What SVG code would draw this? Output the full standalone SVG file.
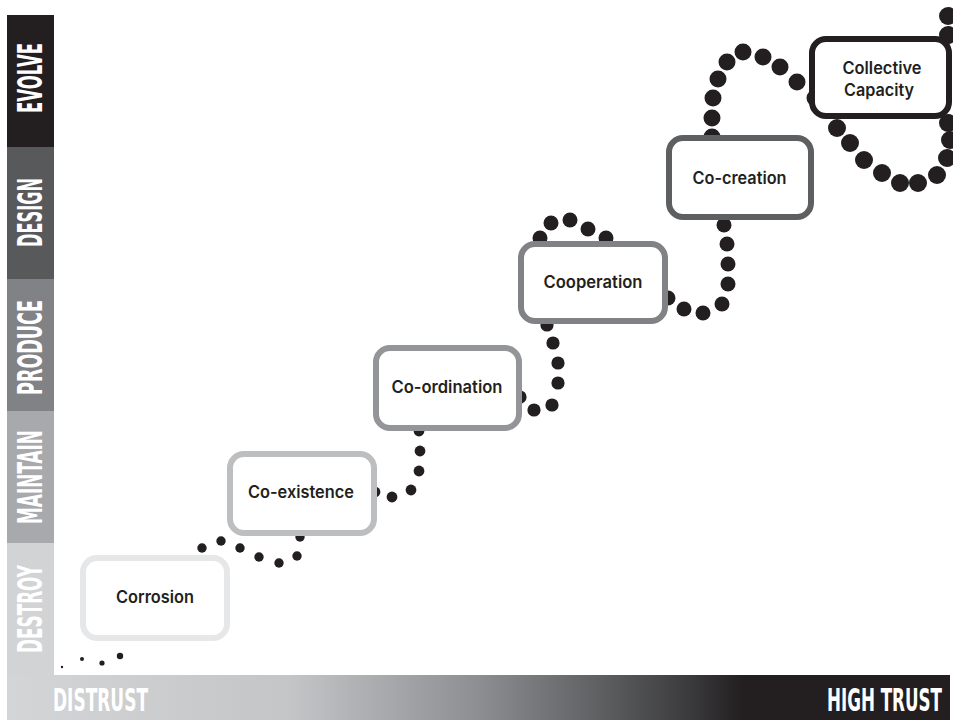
<svg xmlns="http://www.w3.org/2000/svg" width="953" height="720" viewBox="0 0 953 720">
  <defs>
    <linearGradient id="trust" x1="7" y1="0" x2="950" y2="0" gradientUnits="userSpaceOnUse">
      <stop offset="0" stop-color="#d4d5d6"/>
      <stop offset="0.3" stop-color="#c4c5c7"/>
      <stop offset="0.5" stop-color="#8d8e91"/>
      <stop offset="0.63" stop-color="#5e5f61"/>
      <stop offset="0.72" stop-color="#3c3c3e"/>
      <stop offset="0.78" stop-color="#231f20"/>
      <stop offset="1" stop-color="#231f20"/>
    </linearGradient>
    <style>
      .lvl { font-family: 'DejaVu Sans Condensed', 'DejaVu Sans', 'Liberation Sans', sans-serif; font-weight: bold; font-size: 33px; fill: #ffffff; text-anchor: middle; }
      .axis { font-family: 'DejaVu Sans Condensed', 'DejaVu Sans', 'Liberation Sans', sans-serif; font-weight: bold; font-size: 32px; fill: #ffffff; }
      .box { fill: #ffffff; stroke-width: 6; }
      .lbl { font-family: Inter, 'Noto Sans', 'Liberation Sans', sans-serif; font-weight: 600; font-size: 17px; fill: #231f20; text-anchor: middle; }
      .dot { fill: #231f20; }
    </style>
  </defs>

  <rect width="953" height="720" fill="#ffffff"/>

  <!-- vertical scale -->
  <g id="scale">
    <rect x="7" y="15" width="47" height="132" fill="#231f20"/>
    <rect x="7" y="147" width="47" height="132" fill="#58595b"/>
    <rect x="7" y="279" width="47" height="132" fill="#808285"/>
    <rect x="7" y="411" width="47" height="132" fill="#a7a9ac"/>
    <rect x="7" y="543" width="47" height="132" fill="#d1d3d4"/>
    <text class="lvl" transform="translate(42,78) rotate(-90) scale(0.56,1)" textLength="125" lengthAdjust="spacingAndGlyphs">EVOLVE</text>
    <text class="lvl" transform="translate(42,212.5) rotate(-90) scale(0.56,1)" textLength="123" lengthAdjust="spacingAndGlyphs">DESIGN</text>
    <text class="lvl" transform="translate(42,347.5) rotate(-90) scale(0.56,1)" textLength="169.5" lengthAdjust="spacingAndGlyphs">PRODUCE</text>
    <text class="lvl" transform="translate(42,477) rotate(-90) scale(0.56,1)" textLength="168" lengthAdjust="spacingAndGlyphs">MAINTAIN</text>
    <text class="lvl" transform="translate(42,609) rotate(-90) scale(0.56,1)" textLength="157" lengthAdjust="spacingAndGlyphs">DESTROY</text>
  </g>

  <!-- horizontal trust axis -->
  <g id="trust-axis">
    <rect x="7" y="675" width="943" height="45" fill="url(#trust)"/>
    <text class="axis" transform="translate(53,711) scale(0.58,1)" textLength="163.8" lengthAdjust="spacingAndGlyphs">DISTRUST</text>
    <text class="axis" transform="translate(827,711) scale(0.58,1)" textLength="198.3" lengthAdjust="spacingAndGlyphs">HIGH TRUST</text>
  </g>

  <!-- dotted path connectors -->
  <g id="connectors">
    <circle class="dot" cx="62" cy="667" r="1.2"/>
    <circle class="dot" cx="82" cy="659" r="2"/>
    <circle class="dot" cx="102" cy="663" r="2.6"/>
    <circle class="dot" cx="120" cy="656" r="3.2"/>

    <circle class="dot" cx="202" cy="548" r="4.7"/>
    <circle class="dot" cx="221" cy="541" r="4.7"/>
    <circle class="dot" cx="240" cy="548" r="4.7"/>
    <circle class="dot" cx="259" cy="557" r="4.7"/>
    <circle class="dot" cx="279" cy="563" r="4.7"/>
    <circle class="dot" cx="297" cy="556" r="4.7"/>
    <circle class="dot" cx="300" cy="537" r="4.7"/>

    <circle class="dot" cx="375" cy="492" r="5.4"/>
    <circle class="dot" cx="392" cy="497" r="5.4"/>
    <circle class="dot" cx="411" cy="490" r="5.4"/>
    <circle class="dot" cx="419" cy="471" r="5.4"/>
    <circle class="dot" cx="420" cy="451" r="5.4"/>
    <circle class="dot" cx="419" cy="431" r="5.4"/>

    <circle class="dot" cx="520" cy="397" r="6.6"/>
    <circle class="dot" cx="534" cy="410" r="6.6"/>
    <circle class="dot" cx="552" cy="405" r="6.6"/>
    <circle class="dot" cx="558" cy="383" r="6.6"/>
    <circle class="dot" cx="558" cy="363" r="6.6"/>
    <circle class="dot" cx="553" cy="343" r="6.6"/>
    <circle class="dot" cx="547" cy="325" r="6.6"/>

    <circle class="dot" cx="540" cy="238" r="7.5"/>
    <circle class="dot" cx="551" cy="223" r="7.5"/>
    <circle class="dot" cx="570" cy="220" r="7.5"/>
    <circle class="dot" cx="588" cy="229" r="7.5"/>
    <circle class="dot" cx="606" cy="238" r="7.5"/>

    <circle class="dot" cx="668" cy="298" r="7.5"/>
    <circle class="dot" cx="684" cy="309" r="7.5"/>
    <circle class="dot" cx="703" cy="313" r="7.5"/>
    <circle class="dot" cx="722" cy="304" r="7.5"/>
    <circle class="dot" cx="728" cy="284" r="7.5"/>
    <circle class="dot" cx="728" cy="264" r="7.5"/>
    <circle class="dot" cx="727" cy="244" r="7.5"/>
    <circle class="dot" cx="724" cy="225" r="7.5"/>

    <circle class="dot" cx="712" cy="137" r="8.5"/>
    <circle class="dot" cx="712" cy="118" r="8.5"/>
    <circle class="dot" cx="713" cy="98" r="8.5"/>
    <circle class="dot" cx="718" cy="79" r="8.5"/>
    <circle class="dot" cx="727" cy="62" r="8.5"/>
    <circle class="dot" cx="743" cy="52" r="8.5"/>
    <circle class="dot" cx="763" cy="57" r="8.5"/>
    <circle class="dot" cx="780" cy="67" r="8.5"/>
    <circle class="dot" cx="797" cy="82" r="8.5"/>
    <circle class="dot" cx="815" cy="98" r="8.5"/>

    <circle class="dot" cx="837" cy="128" r="9"/>
    <circle class="dot" cx="850" cy="143" r="9"/>
    <circle class="dot" cx="864" cy="160" r="9"/>
    <circle class="dot" cx="882" cy="173" r="9"/>
    <circle class="dot" cx="900" cy="183" r="9"/>
    <circle class="dot" cx="918" cy="183" r="9"/>
    <circle class="dot" cx="937" cy="175" r="9"/>
    <circle class="dot" cx="947" cy="158" r="9"/>
    <circle class="dot" cx="950" cy="140" r="9"/>
    <circle class="dot" cx="948" cy="123" r="9"/>
    <circle class="dot" cx="948" cy="35" r="9"/>
    <circle class="dot" cx="948" cy="16" r="9"/>
  </g>

  <!-- nodes -->
  <g id="corrosion">
    <rect class="box" x="83" y="558" width="144" height="80" rx="14" stroke="#e6e7e8"/>
    <text class="lbl" x="155" y="603" textLength="78" lengthAdjust="spacingAndGlyphs">Corrosion</text>
  </g>
  <g id="co-existence">
    <rect class="box" x="230" y="454" width="144" height="79" rx="14" stroke="#bcbec0"/>
    <text class="lbl" x="301" y="498" textLength="106" lengthAdjust="spacingAndGlyphs">Co-existence</text>
  </g>
  <g id="co-ordination">
    <rect class="box" x="376" y="348" width="143" height="80" rx="14" stroke="#939598"/>
    <text class="lbl" x="447" y="393" textLength="111" lengthAdjust="spacingAndGlyphs">Co-ordination</text>
  </g>
  <g id="cooperation">
    <rect class="box" x="521" y="244" width="144" height="77" rx="14" stroke="#808285"/>
    <text class="lbl" x="593" y="288" textLength="99" lengthAdjust="spacingAndGlyphs">Cooperation</text>
  </g>
  <g id="co-creation">
    <rect class="box" x="669" y="138" width="142" height="79" rx="14" stroke="#5e5f61"/>
    <text class="lbl" x="739.5" y="184" textLength="94" lengthAdjust="spacingAndGlyphs">Co-creation</text>
  </g>
  <g id="collective-capacity">
    <rect class="box" x="812" y="39" width="137" height="77" rx="14" stroke="#231f20" stroke-width="8"/>
    <text class="lbl" x="882" y="74" textLength="79" lengthAdjust="spacingAndGlyphs">Collective</text>
    <text class="lbl" x="879" y="96" textLength="70" lengthAdjust="spacingAndGlyphs">Capacity</text>
  </g>
</svg>
